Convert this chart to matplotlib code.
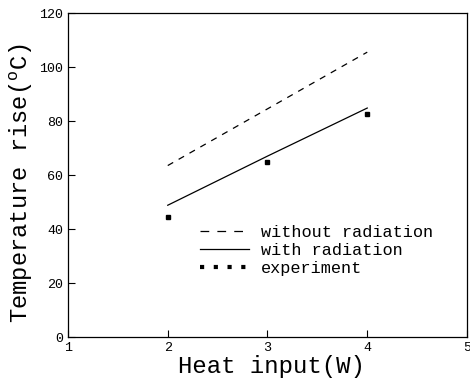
#!/usr/bin/env python3
"""Temperature rise vs heat input: model with/without radiation and experiment."""

import matplotlib
matplotlib.use("Agg")
import matplotlib.pyplot as plt
from matplotlib.lines import Line2D

heat_model = [2, 3, 4]
rise_no_rad = [63.5, 84.5, 105.5]
rise_rad = [48.8, 67.0, 84.8]

heat_exp = [2, 3, 4]
rise_exp = [44.5, 64.7, 82.5]

x_ticks = [1, 2, 3, 4, 5]
y_ticks = [0, 20, 40, 60, 80, 100, 120]

FONT = "Liberation Mono"
plt.rcParams["font.family"] = FONT
plt.rcParams["mathtext.fontset"] = "custom"
plt.rcParams["mathtext.rm"] = FONT


def main():
    fig = plt.figure(figsize=(4.7, 3.8), dpi=100)
    ax = fig.add_axes([68 / 470, 43 / 380, 399 / 470, 324 / 380])

    ax.plot(heat_model, rise_no_rad, color="black", lw=0.9, linestyle=(0, (5, 5)))
    ax.plot(heat_model, rise_rad, color="black", lw=0.9)
    ax.plot(heat_exp, rise_exp, linestyle="none", marker="s", ms=3.5, color="black")

    ax.set_xlim(1, 5)
    ax.set_ylim(0, 120)
    ax.set_xticks(x_ticks)
    ax.set_yticks(y_ticks)
    ax.tick_params(direction="in", length=5, width=0.8, labelsize=9.6)
    for sp in ax.spines.values():
        sp.set_linewidth(0.9)

    ax.set_xlabel("Heat input(W)", fontsize=17.3)
    ax.xaxis.set_label_coords(0.51, -0.057)
    ax.set_ylabel(r"Temperature rise($^{\rm o}$C)", fontsize=17.1)
    ax.yaxis.set_label_coords(-0.0825, 0.475)

    # legend handles drawn to look like the original key
    handles = [
        Line2D([0], [0], color="black", lw=0.9, linestyle=(0, (7, 6.5))),
        Line2D([0], [0], color="black", lw=0.9),
        Line2D([0], [0], color="black", lw=3, linestyle=(0, (1, 2.3))),
    ]
    labels = ["without radiation", "with radiation", "experiment"]
    ax.legend(handles, labels, loc="upper left", bbox_to_anchor=(0.331, 0.346),
              frameon=False, borderpad=0, borderaxespad=0,
              handlelength=2.9, handletextpad=0.7, labelspacing=0.18,
              prop={"size": 12.2})

    fig.savefig("out.png", dpi=100)
    plt.close(fig)


if __name__ == "__main__":
    main()
